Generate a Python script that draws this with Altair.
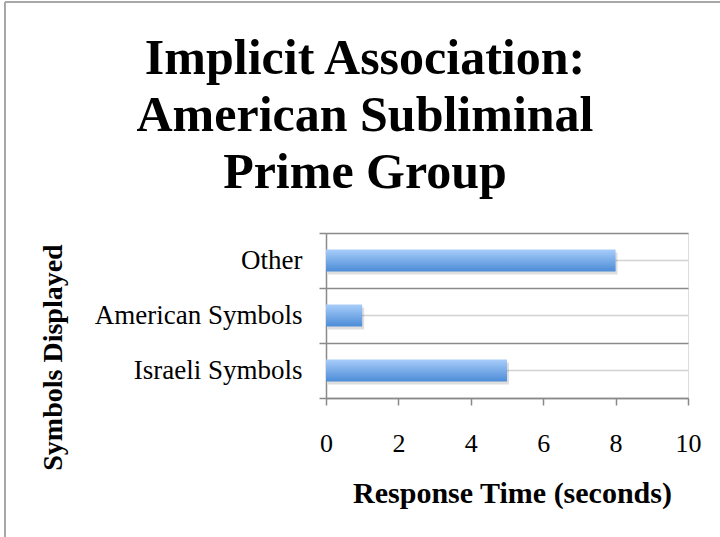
import altair as alt
import pandas as pd

# ---- data ----
categories = ["Other", "American Symbols", "Israeli Symbols"]
values = [8, 1, 5]
x_ticks = [0, 2, 4, 6, 8, 10]
x_max = 10
title_lines = ["Implicit Association:", "American Subliminal", "Prime Group"]
x_title = "Response Time (seconds)"
y_title = "Symbols Displayed"

df = pd.DataFrame({"category": categories, "value": values})
df["zero"] = 0
df["max"] = x_max

FONT = "Liberation Serif"
W, H = 362, 165
PL, PT = 326, 233
AX = "#8a8a8a"

x_scale = alt.Scale(domain=[0, x_max], nice=False, zero=True)
x_axis = alt.Axis(
    values=x_ticks, title=x_title, grid=False,
    labelFont=FONT, labelFontSize=26, labelColor="black", labelBaseline="alphabetic",
    labelPadding=46, labelFlush=False, labelOverlap=False,
    tickSize=7, tickColor=AX, tickWidth=1.5, domainColor=AX, domainWidth=1.5,
    titleFont=FONT, titleFontSize=30, titleFontWeight="bold", titleColor="black",
    titleBaseline="alphabetic", titleX=186, titleY=104,
)
y_axis = alt.Axis(
    title=y_title, tickBand="extent", grid=True, gridColor=AX, gridWidth=1.5,
    labelFont=FONT, labelFontSize=27, labelColor="black", labelPadding=17, labelLimit=400,
    labelExpr="datum.label == 'Other' ? 'Other\u00a0\u00a0' : datum.label",
    tickSize=7, tickColor=AX, tickWidth=1.5, domainColor=AX, domainWidth=1.5,
    titleFont=FONT, titleFontSize=28, titleFontWeight="bold", titleColor="black",
    titleAngle=270, titleBaseline="alphabetic", titleAlign="center",
    titleX=-265, titleY=124,
)
y_enc = alt.Y("category:N", sort=categories,
              scale=alt.Scale(paddingInner=0, paddingOuter=0), axis=y_axis)

base = alt.Chart(df).encode(y=y_enc)

center_lines = base.mark_rule(color="#d2d2d2", strokeWidth=1.5).encode(
    x=alt.X("zero:Q", scale=x_scale, axis=x_axis), x2="max:Q")

shadow = base.mark_bar(color="#000000", opacity=0.13, size=22, xOffset=2, yOffset=3).encode(
    x=alt.X("value:Q", scale=x_scale, axis=x_axis))

grad = alt.LinearGradient(
    gradient="linear", x1=0, y1=0, x2=0, y2=1,
    stops=[alt.GradientStop(color="#a8cdfa", offset=0),
           alt.GradientStop(color="#4c8cd7", offset=1)])
bars = base.mark_bar(color=grad, size=22).encode(
    x=alt.X("value:Q", scale=x_scale, axis=x_axis))

frame_df = pd.DataFrame({"a": [0]})
left_border = alt.Chart(frame_df).mark_rule(color="#a8a8a8", strokeWidth=2).encode(
    x=alt.value(5 - PL), y=alt.value(2 - PT), y2=alt.value(537 - PT))
top_border = alt.Chart(frame_df).mark_rule(color="#a8a8a8", strokeWidth=2).encode(
    x=alt.value(5 - PL), x2=alt.value(720 - PL), y=alt.value(2 - PT))

chart = alt.layer(center_lines, shadow, bars, left_border, top_border).properties(
    width=W, height=H,
    title=alt.TitleParams(
        text=title_lines, font=FONT, fontSize=50, fontWeight="bold", color="black",
        lineHeight=57, anchor="middle", baseline="alphabetic", dx=-142, dy=237, offset=0,
    ),
    autosize=alt.AutoSizeParams(type="none"),
    padding={"left": PL, "top": PT, "right": 720 - PL - W, "bottom": 537 - PT - H},
).configure_view(stroke=None).configure(background="white")

chart.save("out.html", embed_options={"renderer": "svg", "actions": False})
